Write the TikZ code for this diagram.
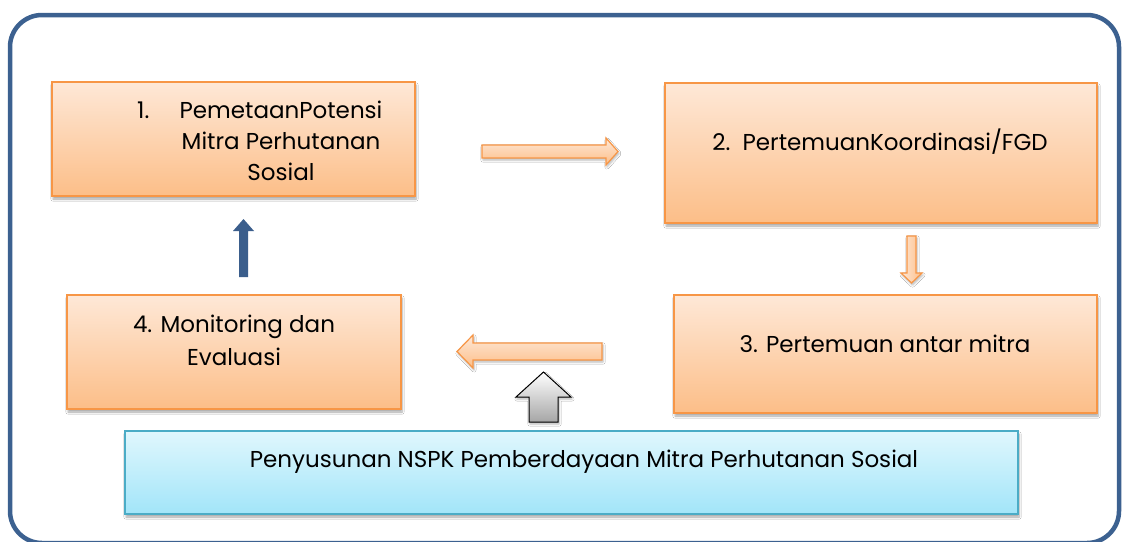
\documentclass[tikz,border=0pt]{standalone}
\usepackage{fontspec}
\setmainfont{Poppins}
\usetikzlibrary{shadows.blur}
\definecolor{frameblue}{HTML}{3C6190}
\definecolor{orbord}{HTML}{F79646}
\definecolor{ortop}{HTML}{FEE8D7}
\definecolor{orbot}{HTML}{FCBE88}
\definecolor{bltop}{HTML}{E0F7FD}
\definecolor{blbot}{HTML}{A2E5F9}
\definecolor{blbord}{HTML}{4BACC6}
\definecolor{arrblue}{HTML}{3B5E8C}
\tikzset{
  obox/.style={draw=orbord, line width=1.6pt, top color=ortop, bottom color=orbot,
    inner sep=0pt, blur shadow={shadow xshift=1pt, shadow yshift=-3pt, shadow blur steps=6, shadow opacity=35}},
  bbox/.style={draw=blbord, line width=1.6pt, top color=bltop, bottom color=blbot,
    inner sep=0pt, blur shadow={shadow xshift=1pt, shadow yshift=-3pt, shadow blur steps=6, shadow opacity=35}},
  oarrow/.style={draw=orbord, line width=1.2pt, top color=ortop, bottom color=orbot, line join=miter,
    blur shadow={shadow xshift=1pt, shadow yshift=-2pt, shadow blur steps=4, shadow opacity=30}},
  garrow/.style={draw=black, line width=1pt, top color=white, bottom color=black!35, line join=miter,
    blur shadow={shadow xshift=1pt, shadow yshift=-2pt, shadow blur steps=4, shadow opacity=30}},
  txt/.style={anchor=base, inner sep=0pt, font=\fontsize{23}{27}\selectfont},
}
\begin{document}
\begin{tikzpicture}[x=1pt, y=-1pt]
\useasboundingbox (0,0) rectangle (1123,541);
\fill[white] (0,0) rectangle (1123,541);
% frame
\draw[frameblue, line width=4.5pt, rounded corners=32pt, fill=white] (10,15) rectangle (1119,543);

% boxes
\node[obox, minimum width=363pt, minimum height=114pt] (b1) at (233.5,139) {};
\node[obox, minimum width=432pt, minimum height=140pt] (b2) at (881,153) {};
\node[obox, minimum width=423pt, minimum height=118pt] (b3) at (885.5,354) {};
\node[obox, minimum width=334pt, minimum height=114pt] (b4) at (234,352) {};
\node[bbox, minimum width=893pt, minimum height=83pt] (b5) at (571.5,472.5) {};

% texts
\node[txt, anchor=base west] (t1n) at (137,118) {1.};
\node[txt] (t1a) at (281,118) {PemetaanPotensi};
\node[txt] (t1b) at (281,149) {Mitra Perhutanan};
\node[txt] (t1c) at (281,180) {Sosial};
\node[txt] (t2) at (880,150) {2.\ \ PertemuanKoordinasi/FGD};
\node[txt] (t3) at (885,352) {3. Pertemuan antar mitra};
\node[txt] (t4a) at (234,332) {4. Monitoring dan};
\node[txt] (t4b) at (234,365) {Evaluasi};
\node[txt] (t5) at (584,467) {Penyusunan NSPK Pemberdayaan Mitra Perhutanan Sosial};

% block arrows
\draw[oarrow] (482,145) -- (606,145) -- (606,138) -- (618,151.5) -- (606,165) -- (606,158) -- (482,158) -- cycle;
\draw[oarrow] (602,343) -- (473,343) -- (473,335) -- (457,351.5) -- (473,368) -- (473,360) -- (602,360) -- cycle;
\draw[oarrow, left color=ortop, right color=orbot] (907,236) -- (916,236) -- (916,273) -- (922,273) -- (911.5,283) -- (901,273) -- (907,273) -- cycle;
\draw[garrow] (529,422) -- (529,397) -- (516,397) -- (543.5,372) -- (571,397) -- (558,397) -- (558,422) -- cycle;
\fill[arrblue] (239,277) -- (239,231) -- (233,231) -- (243.5,219) -- (254,231) -- (248,231) -- (248,277) -- cycle;
\end{tikzpicture}
\end{document}
